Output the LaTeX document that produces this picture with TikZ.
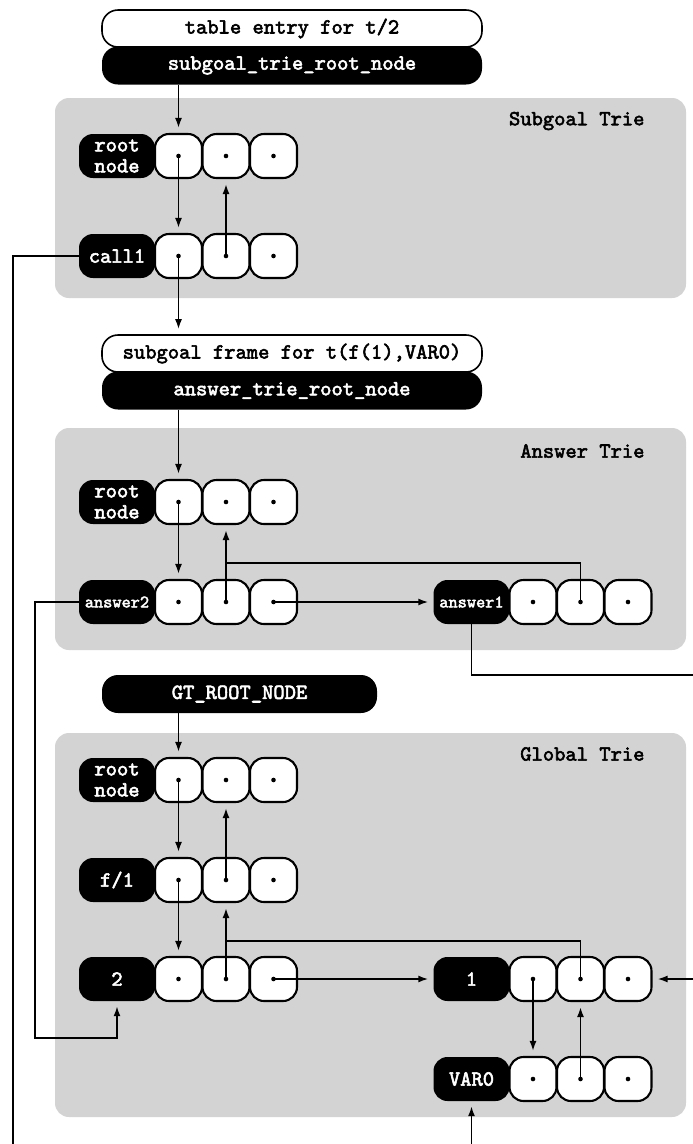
\documentclass[tikz,border=0pt]{standalone}
\usepackage{fontspec}
\setmonofont{lmmono10-regular.otf}[AutoFakeBold=2.6]
\usetikzlibrary{arrows.meta,calc}
\definecolor{trieGrey}{RGB}{211,211,211}
\tikzset{
  base/.style={font=\ttfamily\bfseries\fontsize{21.5}{21}\selectfont},
  greybox/.style={fill=trieGrey, rounded corners=14pt, inner sep=0pt},
  headW/.style={draw, fill=white, line width=1.6pt, rounded corners=16pt, minimum width=380pt, minimum height=37pt, inner sep=0pt, base},
  headB/.style={fill=black, text=white, rounded corners=16pt, minimum width=380pt, minimum height=38pt, inner sep=0pt, base},
  lbl/.style={fill=black, text=white, rounded corners=14pt, minimum width=76pt, minimum height=44pt, inner sep=0pt, base, align=center},
  cell/.style={draw, fill=white, line width=2.1pt, rounded corners=14pt, minimum width=47pt, minimum height=44pt, inner sep=0pt},
  conn/.style={line width=1.7pt},
  arr/.style={conn, -{Latex[length=10pt,width=7pt]}, shorten >=5pt},
  title/.style={base, anchor=east},
}
\newcommand\mkrow[4]{%
  \node[lbl] (#1) at (#2,#3) {#4};
  \foreach \k/\dx in {a/61.5,b/109,c/156.5}{
    \node[cell] (#1\k) at ($(#2,#3)+(\dx,0)$) {};
    \fill (#1\k.center) circle (2.3pt);
  }
}
\newcommand\smallf{\fontsize{17.5}{18}\selectfont}
\begin{document}
\begin{tikzpicture}[x=1pt,y=-1pt]
\clip (0,0) rectangle (693,1144);
\fill[white] (0,0) rectangle (693,1144);
% grey areas
\node[greybox, minimum width=631pt, minimum height=200pt] (gS) at (370.5,198) {};
\node[greybox, minimum width=631pt, minimum height=222pt] (gA) at (370.5,539) {};
\node[greybox, minimum width=631pt, minimum height=384pt] (gG) at (370.5,925) {};
\node[title] (tS) at (648,121) {Subgoal Trie};
\node[title] (tA) at (648,451) {Answer Trie};
\node[title] (tG) at (648,754) {Global Trie};
% headers
\node[headW] (te) at (292,28.5) {table entry for t/2};
\node[headB] (st) at (292,65.5) {subgoal\_trie\_root\_node};
\node[headW] (sf) at (292,353.5) {subgoal frame for t(f(1),VAR0)};
\node[headB] (at) at (292,390.5) {answer\_trie\_root\_node};
\node[headB, minimum width=275pt] (gt) at (239.5,694) {GT\_ROOT\_NODE};
% rows
\mkrow{sr}{117}{156}{root\\node}
\mkrow{sc}{117}{256}{call1}
\mkrow{ar}{117}{502}{root\\node}
\mkrow{aa}{117}{602}{\smallf answer2}
\mkrow{ab}{471.5}{602}{\smallf answer1}
\mkrow{gr}{117}{780}{root\\node}
\mkrow{gf}{117}{880}{f/1}
\mkrow{gt2}{117}{979}{2}
\mkrow{g1}{471.5}{979}{1}
\mkrow{gv}{471.5}{1079}{VAR0}
% helper coordinates
\coordinate (aj) at (226,563);
\coordinate (gj) at (226,941);
\coordinate (a2turn) at (35,1038);
\coordinate (rt) at (705,675);
\coordinate (bt) at (13,1160);
% subgoal trie
\draw[arr] (st.south -| sra) -- (sra.north);
\draw[arr] (sra.center) -- (sca.north);
\draw[arr] (scb.center) -- (srb.south);
\draw[arr] (sca.center) -- (sca |- sf.north);
\draw[arr] (sc.west) -| (bt) -| (gv.south);
% answer trie
\draw[arr] (at.south -| ara) -- (ara.north);
\draw[arr] (ara.center) -- (aaa.north);
\draw[arr] (aab.center) -- (arb.south);
\draw[conn] (abb.center) |- (aj);
\draw[arr] (aac.center) -- (ab.west);
\draw[arr] (aa.west) -| (a2turn) -| (gt2.south);
\draw[arr] (ab.south) |- (rt) |- (g1c.east);
% global trie
\draw[arr] (gt.south -| gra) -- (gra.north);
\draw[arr] (gra.center) -- (gfa.north);
\draw[arr] (gfb.center) -- (grb.south);
\draw[arr] (gfa.center) -- (gt2a.north);
\draw[arr] (gt2b.center) -- (gfb.south);
\draw[conn] (g1b.center) |- (gj);
\draw[arr] (gt2c.center) -- (g1.west);
\draw[arr] (g1a.center) -- (gva.north);
\draw[arr] (gvb.center) -- (g1b.south);
\end{tikzpicture}
\end{document}
